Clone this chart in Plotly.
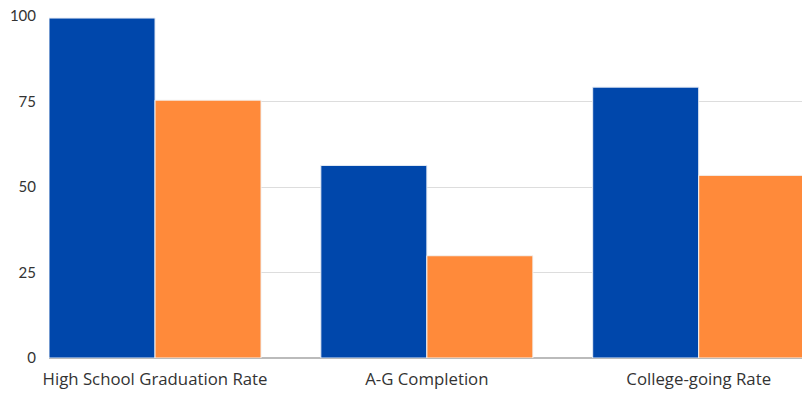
import plotly.graph_objects as go

categories = ["High School Graduation Rate", "A-G Completion", "College-going Rate"]
series_a = [99.4, 56.3, 79.2]
series_b = [75.4, 29.9, 53.4]
y_ticks = [0, 25, 50, 75, 100]

fig = go.Figure()
fig.add_trace(go.Bar(x=categories, y=series_a, name="Group A",
                     marker=dict(color="#0047AB", line=dict(color="#E6ECF5", width=1))))
fig.add_trace(go.Bar(x=categories, y=series_b, name="Group B",
                     marker=dict(color="#FF8A3A", line=dict(color="#F3F3F3", width=1))))

fig.update_layout(
    width=802, height=393,
    margin=dict(l=49, r=0, t=16, b=35),
    plot_bgcolor="white", paper_bgcolor="white",
    barmode="group", bargap=0.22, bargroupgap=0.0,
    showlegend=False,
    font=dict(family="Lato, Open Sans, sans-serif", size=15, color="#333333"),
)
fig.update_xaxes(range=[-0.39, 2.38], showgrid=False, showline=False,
                 ticks="", ticklabelstandoff=9,
                 tickfont=dict(family="Open Sans, sans-serif", size=16.8, color="#333333"))
fig.update_yaxes(range=[0, 100], tickvals=y_ticks, showgrid=True, gridcolor="#DDDDDD",
                 gridwidth=1, zeroline=True, zerolinecolor="#BBBBBB", zerolinewidth=1.5,
                 ticklabelstandoff=12, tickfont=dict(size=15, color="#333333"))

fig.write_html("out.html")
